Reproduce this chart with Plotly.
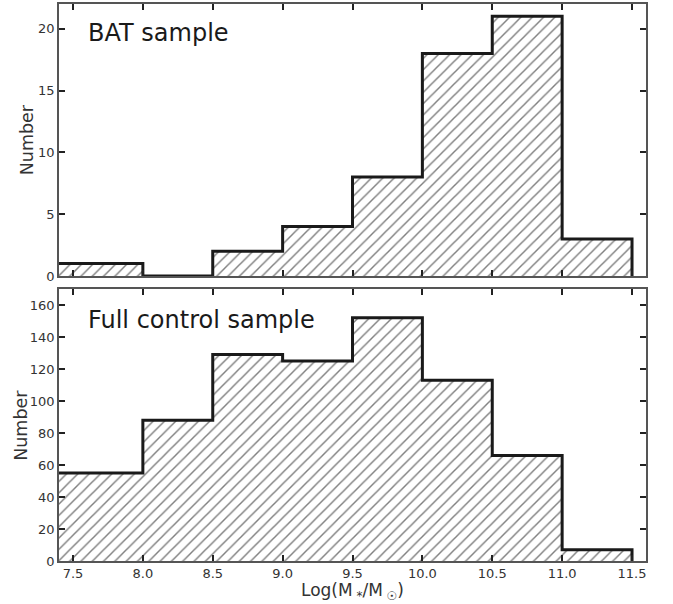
import plotly.graph_objects as go
from plotly.subplots import make_subplots

# Bin edges (log stellar mass) and counts
bin_edges = [7.0, 7.5, 8.0, 8.5, 9.0, 9.5, 10.0, 10.5, 11.0, 11.5]
bat_counts = [1, 1, 0, 2, 4, 8, 18, 21, 3]
control_counts = [55, 55, 88, 129, 125, 152, 113, 66, 7]

x_ticks = [7.5, 8.0, 8.5, 9.0, 9.5, 10.0, 10.5, 11.0, 11.5]
bat_yticks = [0, 5, 10, 15, 20]
control_yticks = [0, 20, 40, 60, 80, 100, 120, 140, 160]

centers = [(a + b) / 2 for a, b in zip(bin_edges[:-1], bin_edges[1:])]
widths = [b - a for a, b in zip(bin_edges[:-1], bin_edges[1:])]

fig = make_subplots(rows=2, cols=1, shared_xaxes=False, vertical_spacing=0.0)

FONT = "DejaVu Sans"
frame = "#555555"
txt = "#333333"


def add_hist(counts, row):
    fig.add_trace(go.Bar(
        x=centers, y=counts, width=widths,
        marker=dict(color="white", line=dict(width=0),
                    pattern=dict(shape="/", fgcolor="#000000", bgcolor="white",
                                 size=8, solidity=0.18)),
        showlegend=False, hoverinfo="skip"), row=row, col=1)
    xs = list(bin_edges) + [bin_edges[-1]]
    ys = list(counts) + [counts[-1], 0]
    fig.add_trace(go.Scatter(
        x=xs, y=ys, mode="lines", line=dict(shape="hv", color="#1a1a1a", width=3),
        showlegend=False, hoverinfo="skip", cliponaxis=True), row=row, col=1)


add_hist(bat_counts, 1)
add_hist(control_counts, 2)

axis_common = dict(showline=True, linecolor=frame, linewidth=1.5, mirror="allticks",
                   ticks="inside", tickcolor="#222222", tickwidth=1.5, ticklen=6,
                   showgrid=False, zeroline=False, automargin=False,
                   tickfont=dict(family=FONT, size=13, color=txt))

fig.update_xaxes(range=[7.4, 11.6], tickvals=x_ticks, **axis_common)
fig.update_xaxes(showticklabels=False, row=1, col=1)
fig.update_xaxes(ticktext=[f"{v:.1f}" for v in x_ticks], row=2, col=1)

fig.update_yaxes(**axis_common)
fig.update_yaxes(range=[0, 22], tickvals=bat_yticks, row=1, col=1)
fig.update_yaxes(range=[0, 170], tickvals=control_yticks, row=2, col=1)

fig.update_layout(
    width=673, height=604,
    margin=dict(l=59, r=27, t=4, b=43),
    plot_bgcolor="white", paper_bgcolor="white",
    bargap=0,
    yaxis=dict(domain=[0.5117, 1.0]),
    yaxis2=dict(domain=[0.0, 0.4883]),
)

fig.add_annotation(text="BAT sample", xref="x domain", yref="y domain", x=0.046, y=0.893,
                   xanchor="left", yanchor="middle", showarrow=False,
                   font=dict(family=FONT, size=24, color="#1a1a1a"))
fig.add_annotation(text="Full control sample", xref="x2 domain", yref="y2 domain", x=0.046, y=0.886,
                   xanchor="left", yanchor="middle", showarrow=False,
                   font=dict(family=FONT, size=24, color="#1a1a1a"))

# Axis titles
fig.add_annotation(text="Number", xref="paper", yref="y domain", x=-0.054, y=0.5,
                   xanchor="center", yanchor="middle", textangle=-90, showarrow=False,
                   font=dict(family=FONT, size=17.5, color=txt))
fig.add_annotation(text="Number", xref="paper", yref="y2 domain", x=-0.065, y=0.5,
                   xanchor="center", yanchor="middle", textangle=-90, showarrow=False,
                   font=dict(family=FONT, size=17.5, color=txt))
fig.add_annotation(text="Log(M<sub> *</sub>/M<sub> \u2609</sub>)", xref="paper", yref="paper",
                   x=0.5, y=-0.031, xanchor="center", yanchor="top", showarrow=False,
                   font=dict(family=FONT, size=17, color=txt))

fig.write_html("out.html", config={"displayModeBar": False},
               post_script="document.body.style.margin='0px';")
